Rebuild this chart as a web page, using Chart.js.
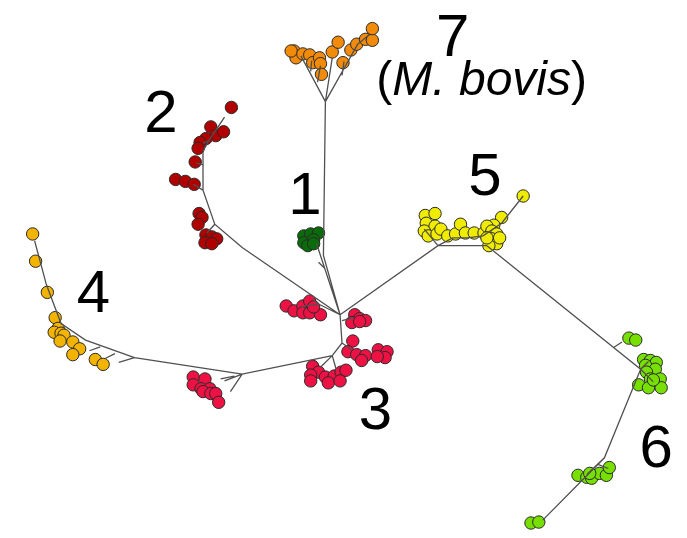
<!DOCTYPE html>
<html>
<head>
<meta charset="utf-8">
<script src="https://cdn.jsdelivr.net/npm/chart.js@4.4.1/dist/chart.umd.min.js"></script>
<style>
  html, body { margin: 0; padding: 0; background: #fff; }
  #wrap { width: 687px; height: 538px; }
</style>
</head>
<body>
<div id="wrap"><canvas id="tree"></canvas></div>
<script>
// leaf positions for each clade (x, y in picture units, y down)
const clade1 = [[303,235],[310,233],[318,232],[303,242],[307,245],[313,239],[313,243]];
const clade2 = [[229,103],[208,123],[213,132],[221,128],[203,135],[197,139],[195,145],[192,159],
  [172,177],[182,179],[191,182],[196,212],[199,216],[195,223],[203,234],[209,236],[214,238],[202,242],[209,243]];
const clade3 = [[285,307],[293,312],[302,307],[309,302],[302,314],[309,314],[320,316],[313,308],
  [355,316],[360,320],[366,322],[352,324],[360,323],
  [353,343],[348,354],[357,357],[366,358],[362,363],[379,352],[388,354],[386,360],[378,359],
  [312,369],[318,375],[310,378],[310,384],[325,380],[334,379],[341,375],[346,373],[328,386],[340,384],
  [190,380],[202,382],[190,388],[198,392],[207,392],[200,395],[208,397],[213,397],[216,406]];
const clade4 = [[26,233],[29,261],[41,293],[49,319],[52,330],[48,334],[55,335],[58,337],[54,343],
  [67,344],[74,351],[67,357],[90,362],[98,367]];
const clade5 = [[527,194],[505,216],[497,224],[427,214],[437,212],[428,222],[437,225],[426,230],
  [430,235],[439,233],[443,228],[450,235],[458,233],[463,223],[468,232],[477,232],[487,232],
  [490,225],[495,230],[500,233],[495,238],[500,243],[492,245],[503,237],[490,237]];
const clade6 = [[635,340],[642,342],[650,362],[657,363],[663,365],[652,368],[662,372],[653,375],
  [657,382],[667,382],[645,388],[655,391],[668,391],[660,383],
  [583,481],[592,483],[597,484],[605,479],[612,481],[615,473],[595,479],[535,530],[543,529]];
const clade7 = [[293,45],[295,52],[290,45],[302,48],[309,49],[312,57],[319,52],[320,58],[321,69],
  [332,46],[338,36],[343,57],[351,44],[357,38],[366,33],[373,34],[373,22]];

// tree branches as polylines
const branches = [
  [[340,316],[323,255],[325,97]],
  [[325,97],[300,50]], [[325,97],[332,52]], [[325,97],[358,38]], [[358,38],[370,28]],
  [[317,77],[320,60]], [[310,66],[311,55]], [[342,70],[344,56]],
  [[340,316],[316,243]], [[324,268],[318,262]],
  [[340,316],[240,247],[212,223],[200,188],[200,148],[206,137],[222,113]],
  [[212,223],[204,232]], [[200,188],[190,182]], [[200,162],[193,160]], [[206,137],[200,140]],
  [[340,316],[318,305]], [[318,305],[300,308]], [[318,305],[312,300]], [[342,322],[354,319]],
  [[340,316],[342,345],[332,358]], [[342,345],[352,352]], [[332,358],[320,370]], [[332,358],[336,372]],
  [[332,358],[240,377],[130,360],[80,342],[55,325],[40,285],[28,240]],
  [[240,377],[222,384]], [[240,377],[228,395]], [[232,379],[218,382]],
  [[130,360],[114,365]], [[110,356],[100,361]], [[95,349],[84,353]],
  [[340,316],[440,245],[490,245]],
  [[440,245],[426,228]], [[440,245],[455,237],[470,237],[486,235],[505,222],[527,194]],
  [[490,245],[647,372],[610,463],[547,527]],
  [[619,350],[628,344]], [[647,372],[655,364]], [[647,372],[660,385]],
  [[610,463],[592,480]], [[604,470],[614,474]]
];

const colors = ['#0a6b0a', '#b00000', '#ee1144', '#f2b400', '#f0ec00', '#78e000', '#f28a0a'];
const clades = [clade1, clade2, clade3, clade4, clade5, clade6, clade7];

// clade labels
const labels = [
  { text: '7', x: 455, y: 50 },
  { text: '2', x: 157, y: 128 },
  { text: '1', x: 304, y: 212 },
  { text: '5', x: 488, y: 193 },
  { text: '4', x: 88, y: 313 },
  { text: '3', x: 376, y: 433 },
  { text: '6', x: 663, y: 472 }
];

const branchPoints = [];
branches.forEach(line => {
  line.forEach(p => branchPoints.push({ x: p[0], y: p[1] }));
  branchPoints.push({ x: null, y: null });
});

const datasets = [{
  data: branchPoints,
  showLine: true,
  spanGaps: false,
  borderColor: '#505050',
  borderWidth: 1.3,
  pointRadius: 0,
  tension: 0
}];
clades.forEach((c, i) => {
  datasets.push({
    data: c.map(p => ({ x: p[0], y: p[1] })),
    backgroundColor: colors[i],
    borderColor: '#2a2a2a',
    borderWidth: 1,
    pointRadius: 6.2
  });
});

const labelPlugin = {
  id: 'cladeLabels',
  afterDatasetsDraw(chart) {
    const ctx = chart.ctx;
    const xs = chart.scales.x, ys = chart.scales.y;
    ctx.save();
    ctx.fillStyle = '#000';
    ctx.textAlign = 'center';
    ctx.textBaseline = 'alphabetic';
    ctx.font = '60px "Liberation Sans", Arial, sans-serif';
    labels.forEach(l => {
      ctx.fillText(l.text, xs.getPixelForValue(l.x), ys.getPixelForValue(l.y));
    });
    // (M. bovis) line under the 7
    const bx = xs.getPixelForValue(377), by = ys.getPixelForValue(90);
    ctx.textAlign = 'left';
    ctx.font = '48px "Liberation Sans", Arial, sans-serif';
    ctx.fillText('(', bx, by);
    let w = ctx.measureText('(').width;
    ctx.font = 'italic 48px "Liberation Sans", Arial, sans-serif';
    ctx.fillText('M. bovis', bx + w, by);
    w += ctx.measureText('M. bovis').width;
    ctx.font = '48px "Liberation Sans", Arial, sans-serif';
    ctx.fillText(')', bx + w, by);
    ctx.restore();
  }
};

new Chart(document.getElementById('tree'), {
  type: 'scatter',
  data: { datasets },
  options: {
    responsive: true,
    maintainAspectRatio: false,
    animation: false,
    layout: { padding: 0 },
    plugins: { legend: { display: false }, tooltip: { enabled: false } },
    scales: {
      x: { type: 'linear', min: 0, max: 687, display: false },
      y: { type: 'linear', min: 0, max: 538, reverse: true, display: false }
    }
  },
  plugins: [labelPlugin]
});
</script>
</body>
</html>
